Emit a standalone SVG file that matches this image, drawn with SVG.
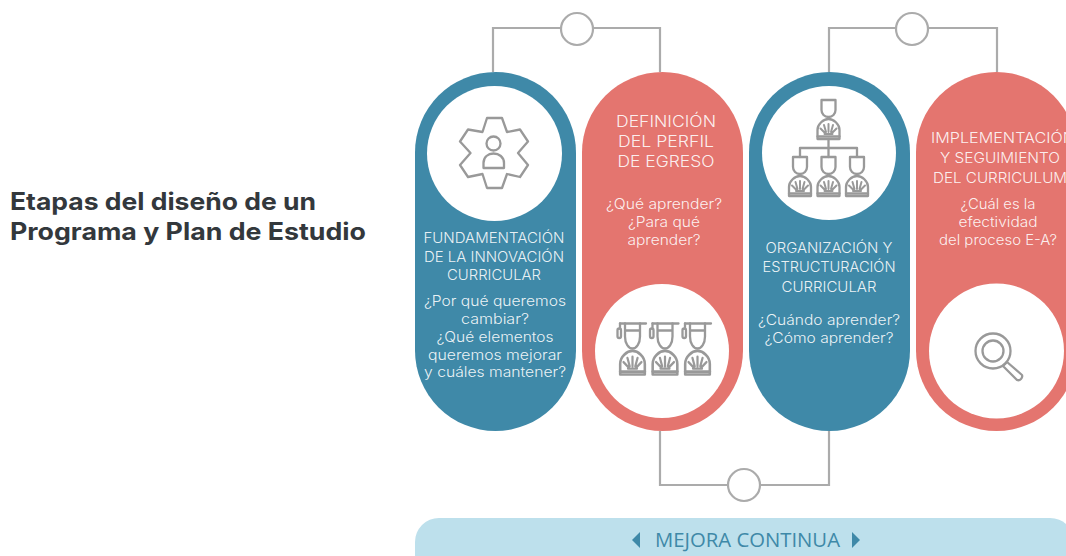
<svg xmlns="http://www.w3.org/2000/svg" xmlns:xlink="http://www.w3.org/1999/xlink" width="1066" height="556" viewBox="0 0 1066 556">
<style>
text{font-family:Inter,"Noto Sans","Liberation Sans",sans-serif;text-anchor:middle}
.t{fill:#33383c;font-size:24px;font-weight:700;text-anchor:start}
.h{fill:#fff;fill-opacity:.9;font-size:14px;font-weight:300}
.h2{fill:#fff;fill-opacity:.9;font-size:15.5px;font-weight:300}
.q{fill:#fff;fill-opacity:.9;font-size:14px;font-weight:300}
.blue{fill:#3f89a8}
.red{fill:#e4756f}
.w{fill:#fff}
.ln{fill:none;stroke:#ababab;stroke-width:2.2}
.ring{fill:#fff;stroke:#ababab;stroke-width:2.2}
.ic{fill:none;stroke:#999;stroke-width:2.3;stroke-linejoin:round;stroke-linecap:round}
.fan{fill:none;stroke:#999;stroke-width:2;stroke-linecap:round}
.m{fill:#3f89a8;font-family:"Open Sans",sans-serif;font-size:20px;font-weight:400}
</style>
<defs>
<g id="body">
<path class="ic" d="M-11,0V-9C-11,-15 -5,-20 0,-20C5,-20 11,-15 11,-9V0Z"/>
<path class="ic" d="M-11,-2.500H11"/>
<path class="fan" d="M0,-7V-15M-2.500,-7L-4.500,-14M2.500,-7L4.500,-14M-3.500,-6L-8,-10.500M3.500,-6L8,-10.500M-4,-5H4"/>
</g>
<g id="head"><path class="ic" d="M-7,0H7V10C7,14 4,17 0,17C-4,17 -7,14 -7,10Z"/></g>
<g id="grad">
<path class="ic" d="M-12.500,0H13.500"/>
<path class="ic" d="M-7.500,0V13C-7.500,20 -4,25 0,25C4,25 7.500,20 7.500,13V0M-7.500,7H7.500"/>
<rect class="ic" x="-15" y="5" width="3.500" height="9.500" rx="1.700"/>
<path class="ic" d="M-12.500,0V5"/>
<use href="#body" transform="translate(0,51) scale(1.12,1.18)"/>
</g>
</defs>
<g id="title">
<text class="t" x="10" y="210" textLength="306" lengthAdjust="spacingAndGlyphs">Etapas del diseño de un</text>
<text class="t" x="10" y="240" textLength="356" lengthAdjust="spacingAndGlyphs">Programa y Plan de Estudio</text>
</g>
<g id="connectors">
<path class="ln" d="M493,72V28H660V72"/>
<path class="ln" d="M829,72V28H997V72"/>
<path class="ln" d="M660,431V485H829V431"/>
<circle class="ring" cx="577" cy="29" r="16"/>
<circle class="ring" cx="912" cy="29" r="16"/>
<circle class="ring" cx="744" cy="485" r="16"/>
</g>
<g id="node-fundamentacion">
<rect class="blue" x="415" y="72" width="161" height="359" rx="80.500"/>
<circle class="w" cx="494.500" cy="153.500" r="67.500"/>
<path class="ic" d="M487,118H502L507,132L520,129.500L528,141.500L518,153L528,165L520,177L507,174L502,188H487L482.500,174L468,177L460,165L470.500,153L460,141.500L468,129.500L482.500,132Z"/>
<circle class="ic" cx="493.500" cy="143.500" r="7"/>
<path class="ic" d="M483.500,168V163C483.500,157 488,153.500 493.500,153.500C499,153.500 504,157 504,163V168Z"/>
<text class="h" x="494" y="243" textLength="141" lengthAdjust="spacingAndGlyphs">FUNDAMENTACIÓN</text>
<text class="h" x="494" y="262" textLength="140" lengthAdjust="spacingAndGlyphs">DE LA INNOVACIÓN</text>
<text class="h" x="494" y="280" textLength="94" lengthAdjust="spacingAndGlyphs">CURRICULAR</text>
<text class="q" x="495" y="306" textLength="142" lengthAdjust="spacingAndGlyphs">¿Por qué queremos</text>
<text class="q" x="495" y="324" textLength="68" lengthAdjust="spacingAndGlyphs">cambiar?</text>
<text class="q" x="495" y="342" textLength="117" lengthAdjust="spacingAndGlyphs">¿Qué elementos</text>
<text class="q" x="495" y="360" textLength="134" lengthAdjust="spacingAndGlyphs">queremos mejorar</text>
<text class="q" x="495" y="377" textLength="142" lengthAdjust="spacingAndGlyphs">y cuáles mantener?</text>
</g>
<g id="node-definicion">
<rect class="red" x="582" y="72" width="161" height="359" rx="80.500"/>
<circle class="w" cx="662" cy="351" r="67"/>
<text class="h2" x="666" y="127" textLength="100" lengthAdjust="spacingAndGlyphs">DEFINICIÓN</text>
<text class="h2" x="666" y="147" textLength="96" lengthAdjust="spacingAndGlyphs">DEL PERFIL</text>
<text class="h2" x="666" y="167" textLength="97" lengthAdjust="spacingAndGlyphs">DE EGRESO</text>
<text class="q" x="664" y="209" textLength="116" lengthAdjust="spacingAndGlyphs">¿Qué aprender?</text>
<text class="q" x="664" y="227" textLength="72" lengthAdjust="spacingAndGlyphs">¿Para qué</text>
<text class="q" x="664" y="245" textLength="73" lengthAdjust="spacingAndGlyphs">aprender?</text>
<use href="#grad" x="632.500" y="323.500"/>
<use href="#grad" x="665" y="323.500"/>
<use href="#grad" x="697.500" y="323.500"/>
</g>
<g id="node-organizacion">
<rect class="blue" x="749" y="72" width="161" height="359" rx="80.500"/>
<circle class="w" cx="829" cy="153" r="67"/>
<use href="#head" x="828.500" y="100"/>
<use href="#body" x="828.500" y="139"/>
<path class="ic" d="M828.500,139V157M800,157V148H857V157"/>
<use href="#head" x="800" y="157"/><use href="#body" x="800" y="196"/>
<use href="#head" x="828.500" y="157"/><use href="#body" x="828.500" y="196"/>
<use href="#head" x="857" y="157"/><use href="#body" x="857" y="196"/>
<text class="h" x="829" y="253" textLength="127" lengthAdjust="spacingAndGlyphs">ORGANIZACIÓN Y</text>
<text class="h" x="829" y="272" textLength="133" lengthAdjust="spacingAndGlyphs">ESTRUCTURACIÓN</text>
<text class="h" x="829" y="292" textLength="95" lengthAdjust="spacingAndGlyphs">CURRICULAR</text>
<text class="q" x="829" y="325" textLength="142" lengthAdjust="spacingAndGlyphs">¿Cuándo aprender?</text>
<text class="q" x="829" y="343" textLength="129" lengthAdjust="spacingAndGlyphs">¿Cómo aprender?</text>
</g>
<g id="node-implementacion">
<rect class="red" x="916" y="72" width="161" height="359" rx="80.500"/>
<circle class="w" cx="996.500" cy="351" r="67.500"/>
<text class="h" x="1003" y="143" textLength="144" lengthAdjust="spacingAndGlyphs">IMPLEMENTACIÓN</text>
<text class="h" x="1000" y="163" textLength="120" lengthAdjust="spacingAndGlyphs">Y SEGUIMIENTO</text>
<text class="h" x="1000" y="183" textLength="134" lengthAdjust="spacingAndGlyphs">DEL CURRICULUM</text>
<text class="q" x="998" y="209" textLength="75" lengthAdjust="spacingAndGlyphs">¿Cuál es la</text>
<text class="q" x="998" y="227" textLength="79" lengthAdjust="spacingAndGlyphs">efectividad</text>
<text class="q" x="998" y="245" textLength="118" lengthAdjust="spacingAndGlyphs">del proceso E-A?</text>
<circle class="ic" cx="993" cy="351" r="17.500"/>
<circle class="ic" cx="993" cy="351" r="10.500"/>
<path class="ic" d="M1003,366L1007,362L1022,375C1023,378 1020,381 1017,380Z"/>
</g>
<g id="banner">
<rect x="415" y="518" width="659" height="60" rx="24" fill="#bde0ec"/>
<path class="blue" d="M640,532V548L632,540Z"/>
<path class="blue" d="M852,532V548L860,540Z"/>
<text class="m" x="747.500" y="547" textLength="185" lengthAdjust="spacingAndGlyphs">MEJORA CONTINUA</text>
</g>
</svg>
